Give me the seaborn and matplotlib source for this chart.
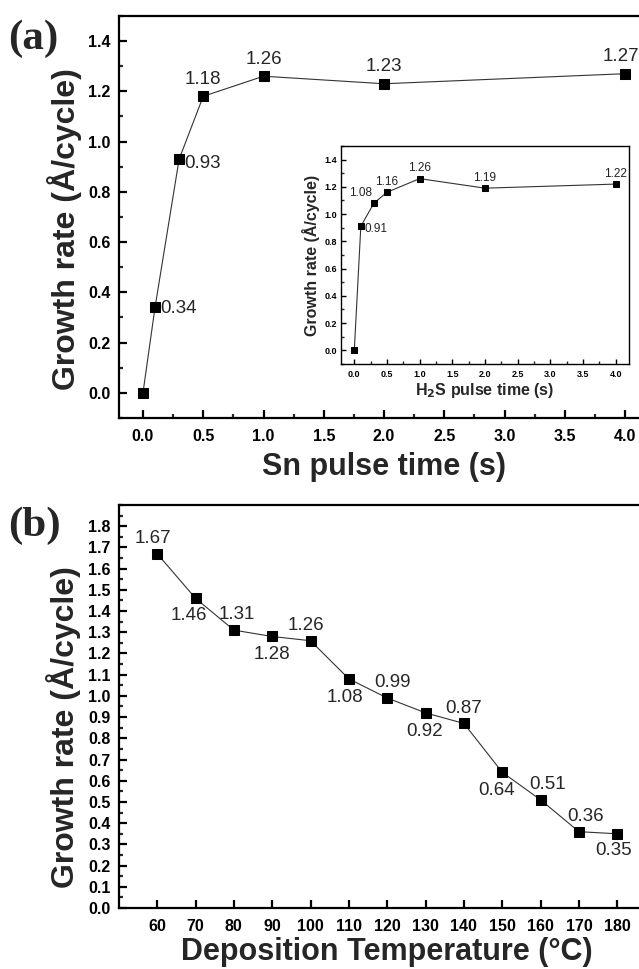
import matplotlib
matplotlib.use("Agg")
import matplotlib.pyplot as plt
import seaborn as sns
import pandas as pd
from matplotlib.ticker import MultipleLocator, FormatStrFormatter

# ---- data ----
sn_pulse_time = [0.0, 0.1, 0.3, 0.5, 1.0, 2.0, 4.0]
sn_growth_rate = [0.00, 0.34, 0.93, 1.18, 1.26, 1.23, 1.27]
sn_labels = [None, "0.34", "0.93", "1.18", "1.26", "1.23", "1.27"]

h2s_pulse_time = [0.0, 0.1, 0.3, 0.5, 1.0, 2.0, 4.0]
h2s_growth_rate = [0.00, 0.91, 1.08, 1.16, 1.26, 1.19, 1.22]
h2s_labels = [None, "0.91", "1.08", "1.16", "1.26", "1.19", "1.22"]

temperature = [60, 70, 80, 90, 100, 110, 120, 130, 140, 150, 160, 170, 180]
temp_growth_rate = [1.67, 1.46, 1.31, 1.28, 1.26, 1.08, 0.99, 0.92, 0.87, 0.64, 0.51, 0.36, 0.35]
temp_labels = ["1.67", "1.46", "1.31", "1.28", "1.26", "1.08", "0.99", "0.92",
               "0.87", "0.64", "0.51", "0.36", "0.35"]

pulse_ticks = [0.0, 0.5, 1.0, 1.5, 2.0, 2.5, 3.0, 3.5, 4.0]
rate_ticks_a = [0.0, 0.2, 0.4, 0.6, 0.8, 1.0, 1.2, 1.4]
rate_ticks_b = [0.0, 0.1, 0.2, 0.3, 0.4, 0.5, 0.6, 0.7, 0.8, 0.9,
                1.0, 1.1, 1.2, 1.3, 1.4, 1.5, 1.6, 1.7, 1.8]

# ---- style ----
sns.set_style("ticks")
plt.rcParams['font.family'] = ['Liberation Sans', 'DejaVu Sans']
plt.rcParams['xtick.direction'] = 'in'
plt.rcParams['ytick.direction'] = 'in'

fig = plt.figure(figsize=(6.39, 9.69), dpi=100)

ax_a = fig.add_axes([0.186, 0.5686, 0.830, 0.415])
ax_in = fig.add_axes([0.534, 0.6244, 0.450, 0.225])
ax_b = fig.add_axes([0.186, 0.0629, 0.840, 0.416])

line_kw = dict(color="#333333", linewidth=0.8, marker="s", markerfacecolor="black",
               markeredgecolor="black", legend=False)

df_a = pd.DataFrame({"t": sn_pulse_time, "g": sn_growth_rate})
df_in = pd.DataFrame({"t": h2s_pulse_time, "g": h2s_growth_rate})
df_b = pd.DataFrame({"T": temperature, "g": temp_growth_rate})

sns.lineplot(data=df_a, x="t", y="g", ax=ax_a, markersize=7.5, **line_kw)
sns.lineplot(data=df_in, x="t", y="g", ax=ax_in, markersize=4.5, **line_kw)
sns.lineplot(data=df_b, x="T", y="g", ax=ax_b, markersize=7.5, **line_kw)

def style_axes(ax, lw, major_len, minor_len, tick_fs, xpad, ypad):
    for s in ax.spines.values():
        s.set_linewidth(lw)
        s.set_color("black")
        s.set_visible(True)
    ax.tick_params(which="major", length=major_len, width=lw, labelsize=tick_fs,
                   top=False, right=False, colors="black")
    ax.tick_params(which="minor", length=minor_len, width=lw, top=False, right=False)
    ax.tick_params(axis="x", which="major", pad=xpad)
    ax.tick_params(axis="y", which="major", pad=ypad)
    for lab in ax.get_xticklabels() + ax.get_yticklabels():
        lab.set_fontweight("bold")

# Panel (a)
ax_a.set_xlim(-0.2, 4.2)
ax_a.set_ylim(-0.1, 1.5)
ax_a.set_xticks(pulse_ticks)
ax_a.set_yticks(rate_ticks_a)
ax_a.xaxis.set_minor_locator(MultipleLocator(0.25))
ax_a.yaxis.set_minor_locator(MultipleLocator(0.1))
ax_a.xaxis.set_major_formatter(FormatStrFormatter("%.1f"))
ax_a.yaxis.set_major_formatter(FormatStrFormatter("%.1f"))
style_axes(ax_a, 1.6, 6, 3, 11.5, 8, 6)
ax_a.set_xlabel("Sn pulse time (s)", fontsize=22, fontweight="bold", labelpad=6)
ax_a.set_ylabel("Growth rate (Å/cycle)", fontsize=23, fontweight="bold")
ax_a.yaxis.set_label_coords(-0.07, 0.47)

offs_a = [None, (4, -1), (4, -3), (0, 6), (0, 6), (0, 6), (-3, 6)]
has_a = [None, "left", "left", "center", "center", "center", "center"]
vas_a = [None, "center", "center", "bottom", "bottom", "bottom", "bottom"]
for x, y, lab, off, ha, va in zip(sn_pulse_time, sn_growth_rate, sn_labels, offs_a, has_a, vas_a):
    if lab is None:
        continue
    ax_a.annotate(lab, (x, y), xytext=off, textcoords="offset points",
                  ha=ha, va=va, fontsize=13.5)

# Inset
ax_in.set_xlim(-0.2, 4.2)
ax_in.set_ylim(-0.1, 1.5)
ax_in.set_xticks(pulse_ticks)
ax_in.set_yticks(rate_ticks_a)
ax_in.xaxis.set_minor_locator(MultipleLocator(0.25))
ax_in.yaxis.set_minor_locator(MultipleLocator(0.1))
ax_in.xaxis.set_major_formatter(FormatStrFormatter("%.1f"))
ax_in.yaxis.set_major_formatter(FormatStrFormatter("%.1f"))
style_axes(ax_in, 1.0, 3.5, 2, 6.5, 4, 3)
ax_in.set_xlabel("H$_\\mathbf{2}$S pulse time (s)", fontsize=11.5, fontweight="bold", labelpad=2)
ax_in.set_ylabel("Growth rate (Å/cycle)", fontsize=11.5, fontweight="bold", labelpad=3)

offs_in = [None, (3, -2), (-1, 3), (0, 3), (0, 3), (0, 3), (0, 3)]
has_in = [None, "left", "right", "center", "center", "center", "center"]
vas_in = [None, "center", "bottom", "bottom", "bottom", "bottom", "bottom"]
for x, y, lab, off, ha, va in zip(h2s_pulse_time, h2s_growth_rate, h2s_labels, offs_in, has_in, vas_in):
    if lab is None:
        continue
    ax_in.annotate(lab, (x, y), xytext=off, textcoords="offset points",
                   ha=ha, va=va, fontsize=8.5, color="#222222")

# Panel (b)
ax_b.set_xlim(50, 190)
ax_b.set_ylim(0.0, 1.9)
ax_b.set_xticks(temperature)
ax_b.set_yticks(rate_ticks_b)
ax_b.yaxis.set_minor_locator(MultipleLocator(0.05))
ax_b.yaxis.set_major_formatter(FormatStrFormatter("%.1f"))
style_axes(ax_b, 1.6, 6, 3, 11.5, 8, 6)
ax_b.set_xlabel("Deposition Temperature (°C)", fontsize=22, fontweight="bold", labelpad=2)
ax_b.set_ylabel("Growth rate (Å/cycle)", fontsize=23, fontweight="bold")
ax_b.yaxis.set_label_coords(-0.07, 0.45)

offs_b = [(-3, 5), (-5, -6), (2, 5), (0, -7), (-3, 5), (-3, -7), (4, 5), (-1, -7),
          (0, 5), (-4, -7), (5, 5), (5, 5), (-3, -6)]
vas_b = ["bottom", "top", "bottom", "top", "bottom", "top", "bottom", "top",
         "bottom", "top", "bottom", "bottom", "top"]
for x, y, lab, off, va in zip(temperature, temp_growth_rate, temp_labels, offs_b, vas_b):
    ax_b.annotate(lab, (x, y), xytext=off, textcoords="offset points",
                  ha="center", va=va, fontsize=13.5)

# Panel labels
fig.text(0.012, 0.960, "(a)", fontsize=31, fontweight="bold",
         family=["Liberation Serif", "DejaVu Serif"], ha="left", va="center")
fig.text(0.012, 0.457, "(b)", fontsize=31, fontweight="bold",
         family=["Liberation Serif", "DejaVu Serif"], ha="left", va="center")

fig.savefig("out.png", dpi=100)
